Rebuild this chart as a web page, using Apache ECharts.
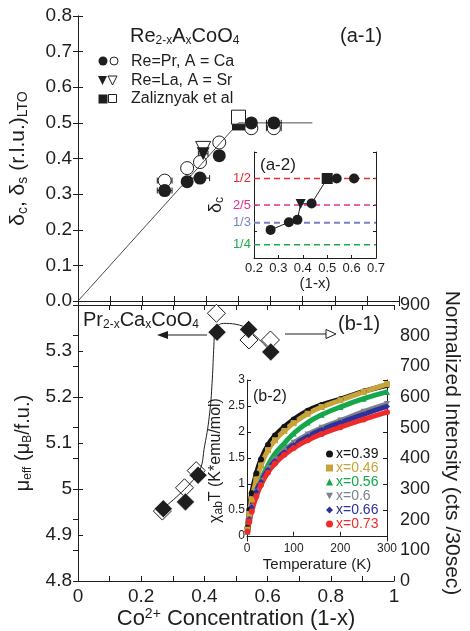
<!DOCTYPE html>
<html>
<head>
<meta charset="utf-8">
<script src="https://cdn.jsdelivr.net/npm/echarts@6.0.0/dist/echarts.min.js"></script>
<style>
html, body { margin: 0; padding: 0; background: #fff; }
#chart { width: 470px; height: 631px; }
</style>
</head>
<body>
<div id="chart"></div>
<script>
// (a-1) 调制波矢 vs Co2+ 浓度
const prX = [0.27, 0.34, 0.38, 0.44, 0.54, 0.61]
const prDeltaC = [0.31, 0.335, 0.345, 0.408, 0.5, 0.5]
const prDeltaS = [0.338, 0.373, 0.39, 0.445, 0.485, 0.485]
const prErrC = [0.023, 0, 0.03, 0, 0, 0.023]
const prErrS = [0.023, 0.012, 0.012, 0.01, 0, 0.023]
const laX = [0.39]
const laDeltaC = [0.413]
const laDeltaS = [0.427]
const laErr = [0.015]
const zalX = [0.5]
const zalDeltaC = [0.497]
const zalDeltaS = [0.516]
const guideA1X = [0, 0.5, 0.73]
const guideA1Y = [0, 0.5, 0.5]

// (a-2) 插图
const insetCircX = [0.268, 0.343, 0.378, 0.436, 0.539, 0.61]
const insetCircY = [0.306, 0.335, 0.344, 0.406, 0.5, 0.5]
const insetTriX = [0.391]
const insetTriY = [0.404]
const insetSqX = [0.5]
const insetSqY = [0.5]
const fracValues = [1 / 2, 2 / 5, 1 / 3, 1 / 4]
const fracLabels = ['1/2', '2/5', '1/3', '1/4']
const fracColors = ['#ec2a2f', '#e8308c', '#7d7fc6', '#1faa50']

// (b-1) μeff 和强度
const muX = [0.27, 0.34, 0.38, 0.44, 0.54, 0.61]
const muEff = [4.957, 4.972, 5.03, 5.341, 5.347, 5.298]
const intX = [0.267, 0.337, 0.374, 0.438, 0.541, 0.609]
const intensity = [228, 304, 360, 873, 786, 786]
const guideB1X = [0.267, 0.378, 0.401, 0.417, 0.425, 0.43, 0.434, 0.46, 0.5, 0.538, 0.611]
const guideB1Y = [4.957, 5.032, 5.095, 5.167, 5.239, 5.311, 5.345, 5.36, 5.358, 5.347, 5.298]

// (b-2) χT vs T
const temps = [1, 5, 10, 20, 30, 45, 60, 80, 100, 130, 160, 200, 250, 300]
const chi039 = [0.15, 0.5, 0.82, 1.2, 1.47, 1.75, 1.93, 2.1, 2.24, 2.41, 2.52, 2.63, 2.78, 2.9]
const chi046 = [0.12, 0.42, 0.7, 1.08, 1.35, 1.65, 1.84, 2.02, 2.17, 2.35, 2.48, 2.61, 2.77, 2.92]
const chi056 = [0.08, 0.3, 0.52, 0.85, 1.08, 1.36, 1.58, 1.78, 1.97, 2.18, 2.33, 2.48, 2.64, 2.77]
const chi060 = [0.08, 0.32, 0.55, 0.85, 1.05, 1.3, 1.47, 1.64, 1.79, 1.95, 2.08, 2.22, 2.39, 2.54]
const chi066 = [0.08, 0.32, 0.55, 0.85, 1.04, 1.27, 1.44, 1.61, 1.75, 1.91, 2.04, 2.18, 2.34, 2.49]
const chi073 = [0.08, 0.28, 0.47, 0.76, 0.98, 1.22, 1.39, 1.56, 1.69, 1.84, 1.96, 2.09, 2.24, 2.38]
const chiNames = ['x=0.39', 'x=0.46', 'x=0.56', 'x=0.6', 'x=0.66', 'x=0.73']
const chiColors = ['#141414', '#c6a43a', '#13a84b', '#7b838b', '#2e309e', '#ee2b2b']
const chiSymbols = ['circle', 'rect', 'triangle', 'path://M0,0L10,0L5,9Z', 'diamond', 'circle']

const FONT = '"Liberation Sans", Arial, Helvetica, sans-serif'
const INK = '#1e1e1e'
const zip = (xs, ys) => xs.map((x, i) => [x, ys[i]])

const mychart = echarts.init(document.getElementById('chart'))

// 横向误差棒
function errBar(params, api) {
  const y = api.value(1)
  const e = api.value(2)
  const a = api.coord([api.value(0) - e, y])
  const b = api.coord([api.value(0) + e, y])
  const s = { stroke: INK, lineWidth: 1 }
  return {
    type: 'group',
    children: [
      { type: 'line', shape: { x1: a[0], y1: a[1], x2: b[0], y2: b[1] }, style: s },
      { type: 'line', shape: { x1: a[0], y1: a[1] - 3, x2: a[0], y2: a[1] + 3 }, style: s },
      { type: 'line', shape: { x1: b[0], y1: b[1] - 3, x2: b[0], y2: b[1] + 3 }, style: s }
    ]
  }
}
const errData = []
prX.forEach((x, i) => {
  if (prErrC[i] > 0) errData.push([x, prDeltaC[i], prErrC[i]])
  if (prErrS[i] > 0) errData.push([x, prDeltaS[i], prErrS[i]])
})
laX.forEach((x, i) => errData.push([x, laDeltaC[i], laErr[i]]))

const insetLine = zip(insetCircX, insetCircY)
  .concat(zip(insetTriX, insetTriY), zip(insetSqX, insetSqY))
  .filter(p => p[0] < 0.6)
  .sort((a, b) => a[0] - b[0])

const labelBase = { color: INK, fontFamily: FONT }
const mainLabel = Object.assign({}, labelBase, { fontSize: 19, margin: 6 })

function mirrorX(grid, pos, min, max, interval) {
  return {
    gridIndex: grid, type: 'value', position: pos, min, max, interval,
    axisLine: { lineStyle: { color: INK } },
    axisTick: { inside: true, length: 5, lineStyle: { color: INK } },
    axisLabel: { show: false }, splitLine: { show: false }
  }
}
function mirrorY(grid, pos, min, max, interval) {
  return {
    gridIndex: grid, type: 'value', position: pos, min, max, interval,
    axisLine: { show: true, lineStyle: { color: INK } },
    axisTick: { inside: true, length: 5, lineStyle: { color: INK } },
    axisLabel: { show: false }, splitLine: { show: false }
  }
}

const sub = { fontSize: 12, verticalAlign: 'bottom', lineHeight: 12, color: INK, fontFamily: FONT }

const xAxis = [
  mirrorX(0, 'bottom', 0, 1, 0.1),
  mirrorX(0, 'top', 0, 1, 0.1),
  Object.assign(mirrorX(1, 'bottom', 0, 1, 0.1), {
    axisLabel: Object.assign({}, mainLabel, {
      show: true,
      formatter: v => { const r = Math.round(v * 10); return r % 2 ? '' : String(r / 10) }
    }),
    name: '{m|Co}{p|2+}{m| Concentration (1-x)}',
    nameLocation: 'middle',
    nameGap: 25,
    nameTextStyle: {
      rich: {
        m: { fontSize: 22, color: INK, fontFamily: FONT, lineHeight: 24 },
        p: { fontSize: 14, color: INK, fontFamily: FONT, verticalAlign: 'top', lineHeight: 14 }
      }
    }
  }),
  mirrorX(1, 'top', 0, 1, 0.1),
  Object.assign(mirrorX(2, 'bottom', 0.2, 0.7, 0.1), {
    axisTick: { inside: true, length: 3, lineStyle: { color: INK } },
    axisLabel: Object.assign({}, labelBase, { show: true, fontSize: 13, margin: 4, formatter: v => v.toFixed(1) }),
    name: '(1-x)', nameLocation: 'middle', nameGap: 18,
    nameTextStyle: { fontSize: 15, color: INK, fontFamily: FONT }
  }),
  Object.assign(mirrorX(3, 'bottom', 0, 300, 100), {
    axisTick: { inside: true, length: 4, lineStyle: { color: INK } },
    axisLabel: Object.assign({}, labelBase, { show: true, fontSize: 12, margin: 2 }),
    name: 'Temperature (K)', nameLocation: 'middle', nameGap: 16,
    nameTextStyle: { fontSize: 15, color: INK, fontFamily: FONT }
  })
]

const yAxis = [
  Object.assign(mirrorY(0, 'left', 0, 0.8, 0.1), {
    axisLabel: Object.assign({}, mainLabel, { show: true, formatter: v => v.toFixed(1) }),
    name: '{m|δ}{s|c}{m|, δ}{s|s}{m| (r.l.u.)}{s|LTO}',
    nameLocation: 'middle', nameGap: 48,
    nameTextStyle: {
      rich: {
        m: { fontSize: 21, color: INK, fontFamily: FONT, lineHeight: 23 },
        s: Object.assign({}, sub, { fontSize: 14 })
      }
    }
  }),
  mirrorY(0, 'right', 0, 0.8, 0.1),
  Object.assign(mirrorY(1, 'left', 4.8, 5.4, 0.1), {
    axisLabel: Object.assign({}, mainLabel, {
      show: true,
      formatter: v => { const r = Math.round(v * 10) / 10; return r === 5.4 ? '' : String(r) }
    }),
    name: '{m|μ}{s|eff}{m| (μ}{s|B}{m|/f.u.)}',
    nameLocation: 'middle', nameGap: 44,
    nameTextStyle: {
      rich: {
        m: { fontSize: 20, color: INK, fontFamily: FONT, lineHeight: 22 },
        s: sub
      }
    }
  }),
  Object.assign(mirrorY(1, 'right', 0, 900, 100), {
    axisLabel: Object.assign({}, mainLabel, { show: true, fontSize: 18 }),
    name: 'Normalized Intensity (cts /30sec)',
    nameLocation: 'middle', nameGap: 47, nameRotate: -90,
    nameTextStyle: { fontSize: 21, color: INK, fontFamily: FONT }
  }),
  Object.assign(mirrorY(2, 'left', 0.2, 0.6, 0.1), {
    axisTick: { inside: true, length: 3, lineStyle: { color: INK } },
    name: '{m|δ}{s|c}', nameLocation: 'middle', nameGap: 28,
    nameTextStyle: {
      rich: {
        m: { fontSize: 18, color: INK, fontFamily: FONT, lineHeight: 20 },
        s: sub
      }
    }
  }),
  Object.assign(mirrorY(2, 'right', 0.2, 0.6, 0.1), {
    axisTick: { inside: true, length: 3, lineStyle: { color: INK } }
  }),
  Object.assign(mirrorY(3, 'left', -0.1, 3, 0.5), {
    axisTick: { inside: true, length: 4, lineStyle: { color: INK }, customValues: [0, 0.5, 1, 1.5, 2, 2.5, 3] },
    axisLabel: Object.assign({}, labelBase, { show: true, fontSize: 12, margin: 2, customValues: [0, 0.5, 1, 1.5, 2, 2.5, 3] }),
    name: '{m|χ}{s|ab}{m|T (K*emu/mol)}', nameLocation: 'middle', nameGap: 10,
    nameTextStyle: {
      rich: {
        m: { fontSize: 16, color: INK, fontFamily: FONT, lineHeight: 18 },
        s: sub
      }
    }
  }),
  Object.assign(mirrorY(3, 'right', -0.1, 3, 0.5), {
    axisTick: { inside: true, length: 4, lineStyle: { color: INK }, customValues: [0, 0.5, 1, 1.5, 2, 2.5, 3] }
  })
]

const open = { color: '#fff', borderColor: INK, borderWidth: 1, opacity: 1 }
const filled = { color: INK, opacity: 1 }

const series = [
  // (a-1)
  { type: 'line', xAxisIndex: 0, yAxisIndex: 0, data: zip(guideA1X, guideA1Y), showSymbol: false,
    lineStyle: { color: INK, width: 0.8 }, silent: true },
  { type: 'custom', xAxisIndex: 0, yAxisIndex: 0, renderItem: errBar, data: errData,
    encode: { x: 0, y: 1 }, silent: true },
  { type: 'scatter', xAxisIndex: 0, yAxisIndex: 0, data: zip(prX, prDeltaS), symbol: 'circle', symbolSize: 13, itemStyle: open },
  { type: 'scatter', xAxisIndex: 0, yAxisIndex: 0, data: zip(prX, prDeltaC), symbol: 'circle', symbolSize: 13, itemStyle: filled },
  { type: 'scatter', xAxisIndex: 0, yAxisIndex: 0, data: zip(laX, laDeltaC), symbol: 'triangle', symbolRotate: 180, symbolSize: 13, itemStyle: filled },
  { type: 'scatter', xAxisIndex: 0, yAxisIndex: 0, data: zip(laX, laDeltaS), symbol: 'triangle', symbolRotate: 180, symbolSize: 15,
    itemStyle: { color: 'rgba(0,0,0,0)', borderColor: INK, borderWidth: 1, opacity: 1 } },
  { type: 'scatter', xAxisIndex: 0, yAxisIndex: 0, data: zip(zalX, zalDeltaC), symbol: 'rect', symbolSize: 13, itemStyle: filled },
  { type: 'scatter', xAxisIndex: 0, yAxisIndex: 0, data: zip(zalX, zalDeltaS), symbol: 'rect', symbolSize: 14, itemStyle: open }
]

// (a-2) 分数参考线
fracValues.forEach((v, i) => {
  series.push({
    type: 'line', xAxisIndex: 4, yAxisIndex: 4, z: 3, silent: true,
    data: [
      { value: [0.2, v], label: { show: true, position: 'left', distance: 3, formatter: fracLabels[i],
        color: fracColors[i], fontSize: 13, fontFamily: FONT } },
      [0.7, v]
    ],
    symbol: 'circle', symbolSize: 0.1, showSymbol: true,
    itemStyle: { color: fracColors[i], opacity: 1 },
    lineStyle: { color: fracColors[i], width: i === 2 ? 2 : 1.3, type: [6, 4], opacity: 1 }
  })
})
series.push(
  { type: 'line', xAxisIndex: 4, yAxisIndex: 4, data: insetLine, showSymbol: false, z: 4,
    lineStyle: { color: INK, width: 1 }, silent: true },
  { type: 'scatter', xAxisIndex: 4, yAxisIndex: 4, z: 5, data: zip(insetCircX, insetCircY), symbol: 'circle', symbolSize: 10, itemStyle: filled },
  { type: 'scatter', xAxisIndex: 4, yAxisIndex: 4, z: 5, data: zip(insetTriX, insetTriY), symbol: 'triangle', symbolRotate: 180, symbolSize: 10, itemStyle: filled },
  { type: 'scatter', xAxisIndex: 4, yAxisIndex: 4, z: 5, data: zip(insetSqX, insetSqY), symbol: 'rect', symbolSize: 11, itemStyle: filled },
  // (b-1)
  { type: 'line', xAxisIndex: 2, yAxisIndex: 2, data: zip(guideB1X, guideB1Y), showSymbol: false, smooth: 0.4,
    lineStyle: { color: INK, width: 1 }, silent: true },
  { type: 'scatter', xAxisIndex: 2, yAxisIndex: 3, data: zip(intX, intensity), symbol: 'diamond', symbolSize: 18, itemStyle: open },
  { type: 'scatter', xAxisIndex: 2, yAxisIndex: 2, data: zip(muX, muEff), symbol: 'diamond', symbolSize: 18,
    itemStyle: { color: INK, borderColor: '#fff', borderWidth: 0.5, opacity: 1 } }
)

// (b-2)
const chiData = [chi039, chi046, chi056, chi060, chi066, chi073]
chiData.forEach((vals, i) => {
  series.push({
    type: 'line', name: chiNames[i], xAxisIndex: 5, yAxisIndex: 6, data: zip(temps, vals), z: 3,
    smooth: true, symbol: chiSymbols[i], symbolSize: 6, showSymbol: true,
    color: chiColors[i], lineStyle: { width: 5, color: chiColors[i] }, itemStyle: { color: chiColors[i], opacity: 1 }
  })
})

// 图例符号
const legendA1 = [
  { type: 'circle', shape: { cx: 103, cy: 61, r: 4.5 }, style: { fill: INK } },
  { type: 'circle', shape: { cx: 114, cy: 61, r: 4 }, style: { fill: '#fff', stroke: INK, lineWidth: 1 } },
  { type: 'polygon', shape: { points: [[98, 76], [107, 76], [102.5, 85]] }, style: { fill: INK } },
  { type: 'polygon', shape: { points: [[108, 76], [117, 76], [112.5, 85]] }, style: { fill: '#fff', stroke: INK, lineWidth: 1 } },
  { type: 'rect', shape: { x: 98.5, y: 94.5, width: 9, height: 9 }, style: { fill: INK } },
  { type: 'rect', shape: { x: 108.5, y: 94.5, width: 8, height: 8 }, style: { fill: '#fff', stroke: INK, lineWidth: 1 } }
]
function txt(x, y, text, size, rich) {
  return { type: 'text', x, y, z: 100,
    style: { text, fontSize: size, fontFamily: FONT, fill: INK, align: 'left', verticalAlign: 'middle', rich } }
}
const subRich = {
  m: { fontSize: 20, fontFamily: FONT, fill: INK, lineHeight: 22 },
  s: { fontSize: 12, fontFamily: FONT, fill: INK, verticalAlign: 'bottom', lineHeight: 12 }
}

const graphic = legendA1.map(g => Object.assign({ z: 100 }, g)).concat([
  txt(130, 36, '{m|Re}{s|2-x}{m|A}{s|x}{m|CoO}{s|4}', 20, subRich),
  txt(131, 62, 'Re=Pr, A = Ca', 16),
  txt(131, 81, 'Re=La, A = Sr', 16),
  txt(131, 99, 'Zaliznyak et al', 16),
  txt(340, 36, '(a-1)', 20),
  txt(260, 165, '(a-2)', 17),
  txt(83, 320, '{m|Pr}{s|2-x}{m|Ca}{s|x}{m|CoO}{s|4}', 20, subRich),
  txt(338, 324, '(b-1)', 20),
  txt(253, 397, '(b-2)', 16),
  // 箭头
  { type: 'line', z: 100, shape: { x1: 165, y1: 335, x2: 207, y2: 335 }, style: { stroke: INK, lineWidth: 1 } },
  { type: 'polygon', z: 100, shape: { points: [[157, 335], [168, 331], [168, 339]] }, style: { fill: INK } },
  { type: 'line', z: 100, shape: { x1: 285, y1: 334, x2: 326, y2: 334 }, style: { stroke: INK, lineWidth: 1 } },
  { type: 'polygon', z: 100, shape: { points: [[326, 329.5], [336, 334], [326, 338.5]] }, style: { fill: '#fff', stroke: INK, lineWidth: 1 } }
])

mychart.setOption({
  animation: false,
  textStyle: { fontFamily: FONT },
  grid: [
    { left: 78, top: 16, width: 321, height: 285 },
    { left: 78, top: 305, width: 321, height: 276 },
    { left: 254, top: 152, width: 122, height: 106, show: true, backgroundColor: '#fff', borderWidth: 0 },
    { left: 247, top: 380, width: 140, height: 161, show: true, backgroundColor: '#fff', borderWidth: 0 }
  ],
  xAxis,
  yAxis,
  legend: {
    orient: 'vertical', left: 321, top: 442, itemWidth: 7, itemHeight: 7, itemGap: 0, z: 10,
    textStyle: { fontSize: 14, fontFamily: FONT, padding: [0, 0, 0, -2] },
    data: chiNames.map((n, i) => ({ name: n, icon: chiSymbols[i], textStyle: { color: chiColors[i] } }))
  },
  series,
  graphic
})
</script>
</body>
</html>
